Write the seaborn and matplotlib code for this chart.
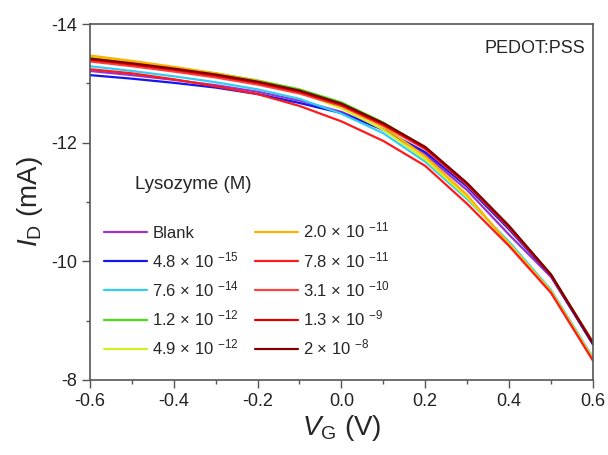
import numpy as np
import pandas as pd
import matplotlib
matplotlib.use("Agg")
import matplotlib.pyplot as plt
import seaborn as sns

# --- Data ---
VG = [-0.6, -0.5, -0.4, -0.3, -0.2, -0.1, 0.0, 0.1, 0.2, 0.3, 0.4, 0.5, 0.6]

LABELS = ["Blank", "4.8 × 10 $^{-15}$", "7.6 × 10 $^{-14}$", "1.2 × 10 $^{-12}$",
          "4.9 × 10 $^{-12}$", "2.0 × 10 $^{-11}$", "7.8 × 10 $^{-11}$",
          "3.1 × 10 $^{-10}$", "1.3 × 10 $^{-9}$", "2 × 10 $^{-8}$"]

blank = [-13.21, -13.14, -13.06, -12.97, -12.86, -12.71, -12.52, -12.22, -11.80, -11.20, -10.45, -9.74, -8.62]
c_4_8e15 = [-13.14, -13.08, -13.01, -12.93, -12.82, -12.67, -12.50, -12.22, -11.84, -11.26, -10.54, -9.76, -8.60]
c_7_6e14 = [-13.29, -13.21, -13.12, -13.02, -12.90, -12.74, -12.49, -12.16, -11.68, -11.05, -10.33, -9.52, -8.38]
c_1_2e12 = [-13.44, -13.36, -13.27, -13.17, -13.05, -12.90, -12.68, -12.34, -11.92, -11.30, -10.58, -9.78, -8.64]
c_4_9e12 = [-13.46, -13.37, -13.27, -13.16, -13.03, -12.85, -12.58, -12.22, -11.72, -11.08, -10.30, -9.50, -8.36]
c_2_0e11 = [-13.47, -13.38, -13.28, -13.17, -13.04, -12.87, -12.62, -12.27, -11.77, -11.12, -10.28, -9.49, -8.34]
c_7_8e11 = [-13.24, -13.17, -13.07, -12.95, -12.82, -12.62, -12.36, -12.03, -11.61, -10.97, -10.26, -9.47, -8.33]
c_3_1e10 = [-13.37, -13.29, -13.20, -13.10, -12.98, -12.83, -12.62, -12.29, -11.89, -11.29, -10.57, -9.77, -8.64]
c_1_3e9 = [-13.40, -13.32, -13.23, -13.13, -13.01, -12.86, -12.64, -12.31, -11.91, -11.30, -10.58, -9.77, -8.63]
c_2e8 = [-13.42, -13.34, -13.25, -13.15, -13.03, -12.88, -12.66, -12.33, -11.93, -11.32, -10.60, -9.78, -8.62]

SERIES = [blank, c_4_8e15, c_7_6e14, c_1_2e12, c_4_9e12,
          c_2_0e11, c_7_8e11, c_3_1e10, c_1_3e9, c_2e8]

COLORS = ["#9933CC", "#1515F0", "#33CCF5", "#44E010", "#D4F020",
          "#FFB000", "#FF1A1A", "#FF4040", "#E00000", "#800000"]

rows = []
for lab, ys in zip(LABELS, SERIES):
    for v, i in zip(VG, ys):
        rows.append({"VG": v, "ID": i, "conc": lab})
df = pd.DataFrame(rows)

sns.set_style("white")
plt.rcParams["font.family"] = ["Liberation Sans", "DejaVu Sans"]
plt.rcParams["mathtext.fontset"] = "custom"
plt.rcParams["mathtext.rm"] = "Liberation Sans"
plt.rcParams["mathtext.it"] = "Liberation Sans:italic"

fig = plt.figure(figsize=(6.08, 4.55), dpi=100)
ax = fig.add_axes([0.148, 0.165, 0.827, 0.782])

sns.lineplot(data=df, x="VG", y="ID", hue="conc", hue_order=LABELS,
             palette=dict(zip(LABELS, COLORS)), linewidth=1.6, ax=ax,
             legend=False, sort=False)

ax.set_xlim(-0.6, 0.6)
ax.set_ylim(-8, -14)
ax.set_xticks(np.arange(-0.6, 0.61, 0.2))
ax.set_xticks(np.arange(-0.5, 0.6, 0.2), minor=True)
ax.set_xticklabels(["-0.6", "-0.4", "-0.2", "0.0", "0.2", "0.4", "0.6"])
ax.set_yticks([-14, -12, -10, -8])
ax.set_yticks([-13, -11, -9], minor=True)
ax.set_yticklabels(["-14", "-12", "-10", "-8"])

ax.tick_params(axis="both", which="major", direction="out", length=6, width=1,
               color="#555555", labelsize=13, labelcolor="#222222")
ax.tick_params(axis="both", which="minor", direction="out", length=3, width=1,
               color="#555555")
ax.tick_params(top=False, right=False, bottom=True, left=True, which="both")
for s in ax.spines.values():
    s.set_color("#555555")
    s.set_linewidth(1.2)

ax.set_xlabel(r"$V_\mathrm{G}$ (V)", fontsize=20, labelpad=2)
ax.set_ylabel(r"$I_\mathrm{D}$ (mA)", fontsize=20, labelpad=4)

ax.text(0.985, 0.955, "PEDOT:PSS", transform=ax.transAxes, ha="right", va="top",
        fontsize=13)
ax.text(0.089, 0.548, "Lysozyme (M)", transform=ax.transAxes, ha="left",
        va="center", fontsize=13.5)

handles = [plt.Line2D([], [], color=c, lw=1.6) for c in COLORS]
leg = ax.legend(handles, LABELS, ncol=2, loc="upper left",
                bbox_to_anchor=(-0.002, 0.489), frameon=False, fontsize=12,
                handlelength=2.6, labelspacing=0.56, columnspacing=0.95,
                handletextpad=0.3)

fig.savefig("out.png", dpi=100)
